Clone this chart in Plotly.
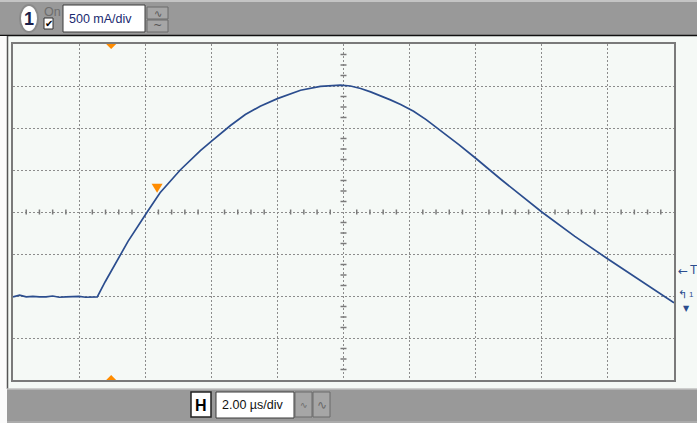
import plotly.graph_objects as go

W, H = 697, 423

# Captured waveform: time (µs from left edge of screen) and current (A)
time_us = [0.0, 0.2, 0.4, 0.6, 0.8, 1.0, 1.2, 1.4, 1.6, 1.8, 2.0, 2.2, 2.4, 2.55,
           2.79, 3.18, 3.48, 4.06, 4.45, 5.06, 5.67, 6.0, 6.58, 7.03, 7.48,
           8.0, 8.39, 8.70, 9.30, 9.91, 10.21, 10.52, 10.82, 11.12, 11.42,
           11.73, 12.12, 12.5, 12.94, 13.5, 14.0, 14.76, 16.0, 17.0, 18.0, 19.0, 20.0]
current_a = [-0.01, 0.01, -0.01, -0.005, -0.01, -0.01, 0.0, -0.015, -0.01, -0.01, -0.005, -0.015, -0.01, -0.01,
             0.17, 0.45, 0.65, 1.00, 1.23, 1.50, 1.73, 1.84, 2.03, 2.16, 2.26,
             2.35, 2.41, 2.45, 2.495, 2.51, 2.50, 2.47, 2.43, 2.385, 2.335,
             2.28, 2.20, 2.10, 1.97, 1.80, 1.64, 1.39, 1.00, 0.71, 0.44, 0.18, -0.08]

# Screen scaling: 10 x 2 µs horizontally, 8 x 500 mA vertically
x_range = [0, 20]
y_range = [-1.0, 3.0]
x_div, y_div = 2.0, 0.5
x_sub, y_sub = 5, 4

trigger_time = 2.97     # µs
trigger_level = 1.23    # A
trigger_marker_time = 4.36

ch_label = "500 mA/div"
tb_label = "2.00 µs/div"

TRACE = "#2b4d8e"
ORANGE = "#ff8c00"
GRID = "#8c8c8c"
PANEL = "#f5f9f6"
BAR = "#999999"


def px(x):
    return x / W


def py(y):
    return 1 - y / H


fig = go.Figure()
fig.add_trace(go.Scatter(x=time_us, y=current_a, mode="lines",
                         line=dict(color=TRACE, width=1.7), hoverinfo="skip"))

shapes = []

# center graticule ticks
cx = (x_range[0] + x_range[1]) / 2
cy = (y_range[0] + y_range[1]) / 2
n = int(round((x_range[1] - x_range[0]) / x_div * x_sub))
for i in range(1, n):
    t = x_range[0] + i * x_div / x_sub
    if i % x_sub == 0:
        continue
    shapes.append(dict(type="line", xref="x", yref="y", ysizemode="pixel", yanchor=cy,
                       x0=t, x1=t, y0=-2.5, y1=2.5, line=dict(color="#7a7a7a", width=1.5)))
n = int(round((y_range[1] - y_range[0]) / y_div * y_sub))
for i in range(1, n):
    v = y_range[0] + i * y_div / y_sub
    if i % y_sub == 0:
        continue
    shapes.append(dict(type="line", xref="x", yref="y", xsizemode="pixel", xanchor=cx,
                       y0=v, y1=v, x0=-3, x1=3, line=dict(color="#7a7a7a", width=1.5)))

# trigger position markers (top and bottom edges) and trigger level marker
shapes.append(dict(type="path", xref="x", yref="y", xsizemode="pixel", ysizemode="pixel",
                   xanchor=trigger_time, yanchor=y_range[1], path="M-5,0 L5,0 L0,-5 Z",
                   fillcolor=ORANGE, line=dict(width=0)))
shapes.append(dict(type="path", xref="x", yref="y", xsizemode="pixel", ysizemode="pixel",
                   xanchor=trigger_time, yanchor=y_range[0], path="M-5,0 L5,0 L0,5 Z",
                   fillcolor=ORANGE, line=dict(width=0)))
shapes.append(dict(type="path", xref="x", yref="y", xsizemode="pixel", ysizemode="pixel",
                   xanchor=trigger_marker_time, yanchor=trigger_level, path="M-5.5,9 L5.5,9 L0,0 Z",
                   fillcolor=ORANGE, line=dict(width=0)))


def prect(x0, y0, x1, y1, fill, line=None, lw=1, layer="above"):
    d = dict(type="rect", xref="paper", yref="paper", x0=px(x0), x1=px(x1), y0=py(y1), y1=py(y0),
             fillcolor=fill, layer=layer)
    d["line"] = dict(color=line, width=lw) if line else dict(width=0)
    return d


def pline(x0, y0, x1, y1, color, lw=1):
    return dict(type="line", xref="paper", yref="paper", x0=px(x0), x1=px(x1), y0=py(y0), y1=py(y1),
                line=dict(color=color, width=lw))


# window chrome
shapes += [
    prect(0, 0, W, 35, BAR),
    pline(0, 1, W, 1, "#c4c4c4", 2),
    pline(0, 35.5, W, 35.5, "#111111", 1.5),
    prect(0, 36, 7, H, "#fbfbfb"),
    pline(7.5, 36, 7.5, 389, "#555555", 1.5),
    prect(7, 389, W, H, BAR),
    pline(7, 389, W, 389, "#c0c0c0", 1.5),
    pline(7, 422, W, 422, "#bdbdbd", 1),
]

# channel controls
shapes += [
    dict(type="circle", xref="paper", yref="paper", x0=px(20), x1=px(38), y0=py(32), y1=py(5),
         fillcolor="white", line=dict(color="#8a8a8a", width=2)),
    prect(44, 18, 53, 29, "white", "#333333", 1),
    prect(63, 5, 145, 32, "white", "#3a3a3a", 1),
    prect(147, 7, 168, 19, "#a6a6a6", "#6a6a6a", 1),
    prect(147, 20, 168, 32, "#a6a6a6", "#6a6a6a", 1),
]
# timebase controls
shapes += [
    prect(191, 392, 211, 417, "white", "#222222", 1.5),
    prect(216, 392, 294, 418, "white", "#3a3a3a", 1),
    prect(295, 392, 312, 417, "#a6a6a6", "#6a6a6a", 1),
    prect(313, 392, 330, 417, "#a6a6a6", "#6a6a6a", 1),
]

FONT = "Liberation Sans"


def ptext(x, y, text, size, color, xanchor="left", bold=False, family=FONT):
    return dict(xref="paper", yref="paper", x=px(x), y=py(y), text=f"<b>{text}</b>" if bold else text,
                showarrow=False, xanchor=xanchor, yanchor="middle",
                font=dict(size=size, color=color, family=family))


annotations = [
    ptext(29, 19, "1", 18, "#1b1f4a", "center", bold=True),
    ptext(52, 12, "On", 12.5, "#6e6e6e", "center"),
    ptext(48.5, 24, "✔", 10, "#000000", "center", family="DejaVu Sans"),
    ptext(67, 18.5, ch_label, 12.5, "#1a2a70"),
    ptext(157.5, 13, "∿", 10, "#555555", "center", family="DejaVu Sans"),
    ptext(157.5, 26, "~", 11, "#555555", "center", family="DejaVu Sans"),
    ptext(201, 405, "H", 16, "#000000", "center", bold=True),
    ptext(220, 405, tb_label, 12.5, "#111111"),
    ptext(303.5, 405, "∿", 9, "#6a6a6a", "center", family="DejaVu Sans"),
    ptext(321.5, 405, "∿", 12, "#6a6a6a", "center", family="DejaVu Sans"),
    ptext(683, 271, "←", 12, TRACE, "center", family="DejaVu Sans"),
    ptext(693.5, 270, "T", 12, TRACE, "center"),
    ptext(682, 294, "↰", 11, TRACE, "center", family="DejaVu Sans"),
    ptext(691, 294, "1", 8, TRACE, "center"),
    ptext(686, 308, "▼", 8, TRACE, "center", family="DejaVu Sans"),
]

fig.update_layout(
    width=W, height=H, margin=dict(l=0, r=0, t=0, b=0),
    paper_bgcolor=PANEL, plot_bgcolor=PANEL, showlegend=False,
    shapes=shapes, annotations=annotations,
    xaxis=dict(domain=[px(13), px(674)], range=x_range, dtick=x_div, tick0=x_range[0],
               showticklabels=False, ticks="", showgrid=True, gridcolor=GRID, griddash="2px,2px",
               gridwidth=1, zeroline=False, showline=True, mirror=True, linecolor="#7a7a7a",
               linewidth=2, fixedrange=True),
    yaxis=dict(domain=[py(380), py(44)], range=y_range, dtick=y_div, tick0=y_range[0],
               showticklabels=False, ticks="", showgrid=True, gridcolor=GRID, griddash="2px,2px",
               gridwidth=1, zeroline=False, showline=True, mirror=True, linecolor="#7a7a7a",
               linewidth=2, fixedrange=True),
)

fig.write_html("out.html", config={"displayModeBar": False})
